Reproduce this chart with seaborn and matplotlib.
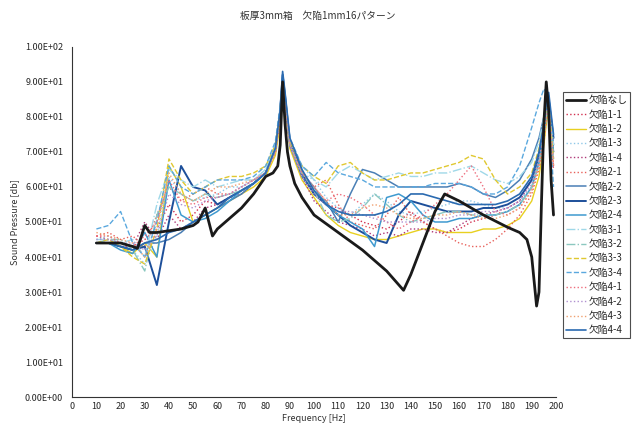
import pandas as pd
import matplotlib.pyplot as plt
import seaborn as sns

sns.set_style("white")
plt.rcParams['font.family'] = ['Noto Sans CJK JP', 'DejaVu Sans']

# frequency grid shared by the 16 defect patterns
freq = [10, 15, 20, 25, 30, 35, 40, 45, 50, 55, 60, 65, 70, 75, 80, 84, 86, 87, 88, 90,
        95, 100, 105, 110, 115, 120, 125, 130, 135, 140, 145, 150, 155, 160, 165, 170,
        175, 180, 185, 190, 193, 195, 196, 197, 199]

# reference curve (no defect)
freq_ref = [10, 15, 20, 25, 27, 30, 32, 35, 40, 45, 50, 52, 55, 58, 60, 65, 70, 75, 80, 83,
            85, 86, 87, 88, 89, 90, 92, 95, 100, 110, 120, 130, 137, 140, 145, 150, 154,
            160, 170, 180, 185, 188, 190, 192, 193, 194, 195, 196, 197, 198, 199]
spl_ref = [44, 44, 44, 43, 42.5, 49, 47, 47, 47.5, 48, 49, 50, 54, 46, 48, 51, 54, 58, 63, 64,
           66, 72, 90, 78, 70, 66, 61, 57, 52, 47, 42, 36, 30.5, 35, 44, 53, 58,
           56, 52, 48.5, 47, 45, 40, 26, 30, 55, 78, 90, 82, 62, 52]

d11 = [46, 45, 44, 43, 45, 48, 55, 50, 52, 56, 55, 57, 59, 61, 64, 70, 80, 90, 84, 72,
       64, 58, 55, 54, 52, 50, 49, 48, 50, 53, 50, 48, 47, 48, 50, 51, 52, 53, 55, 60, 68, 76, 80, 82, 65]
d12 = [44, 44, 43, 41, 44, 40, 66, 60, 50, 52, 54, 56, 58, 60, 63, 69, 78, 88, 83, 71,
       62, 57, 52, 49, 47, 46, 45, 45, 46, 47, 48, 48, 47, 47, 47, 48, 48, 49, 51, 56, 63, 72, 78, 82, 70]
d13 = [45, 46, 44, 42, 38, 46, 63, 58, 56, 57, 58, 60, 60, 62, 65, 72, 82, 91, 85, 72,
       64, 62, 57, 54, 52, 55, 58, 56, 53, 52, 53, 54, 55, 56, 56, 55, 54, 54, 56, 60, 66, 74, 80, 84, 68]
d14 = [44, 44, 43, 43, 50, 45, 52, 48, 50, 54, 55, 57, 58, 61, 64, 70, 80, 89, 84, 72,
       63, 56, 53, 50, 49, 48, 46, 47, 46, 48, 48, 47, 47, 49, 51, 52, 53, 54, 56, 62, 70, 78, 83, 85, 70]
d21 = [46, 47, 45, 46, 43, 52, 60, 56, 58, 60, 58, 58, 60, 62, 64, 70, 81, 90, 84, 72,
       63, 60, 62, 55, 50, 49, 48, 52, 57, 52, 50, 48, 46, 44, 43, 43, 45, 48, 52, 58, 65, 73, 79, 83, 66]
d22 = [44, 44, 43, 42, 44, 44, 45, 47, 50, 52, 54, 56, 58, 61, 64, 71, 82, 91, 85, 72,
       63, 58, 56, 50, 58, 65, 64, 62, 60, 60, 60, 60, 60, 61, 60, 58, 57, 59, 62, 68, 74, 80, 84, 86, 72]
d23 = [44, 44, 43, 42, 43, 32, 50, 66, 60, 59, 55, 57, 59, 61, 64, 71, 82, 92, 86, 73,
       64, 58, 55, 52, 49, 47, 45, 44, 52, 56, 55, 54, 53, 53, 53, 54, 54, 55, 57, 62, 69, 77, 83, 85, 74]
d24 = [44, 44, 42, 41, 47, 40, 62, 52, 50, 51, 53, 56, 59, 61, 64, 71, 82, 91, 85, 72,
       64, 60, 55, 52, 50, 48, 43, 57, 58, 56, 52, 50, 50, 51, 51, 52, 52, 53, 55, 60, 67, 75, 81, 84, 70]
d31 = [45, 45, 44, 45, 40, 55, 65, 62, 60, 62, 60, 61, 62, 62, 65, 72, 82, 91, 85, 73,
       66, 62, 60, 64, 66, 64, 62, 63, 64, 63, 63, 64, 64, 65, 66, 64, 62, 61, 63, 67, 73, 80, 84, 86, 72]
d32 = [44, 45, 45, 42, 36, 52, 60, 58, 56, 58, 57, 58, 59, 61, 64, 71, 81, 90, 85, 72,
       64, 59, 52, 50, 51, 54, 58, 55, 52, 50, 51, 52, 53, 53, 52, 52, 52, 53, 55, 60, 67, 75, 80, 83, 68]
d33 = [44, 45, 43, 40, 38, 48, 68, 62, 58, 60, 62, 63, 63, 64, 66, 72, 82, 90, 85, 73,
       66, 63, 61, 66, 67, 64, 62, 62, 63, 64, 64, 65, 66, 67, 69, 68, 62, 58, 60, 64, 71, 78, 82, 84, 68]
d34 = [48, 49, 53, 44, 40, 50, 66, 60, 58, 60, 62, 62, 62, 63, 66, 73, 83, 92, 86, 74,
       66, 63, 67, 64, 63, 62, 60, 60, 60, 60, 60, 61, 61, 61, 60, 58, 58, 60, 66, 77, 84, 88, 87, 83, 60]
d41 = [46, 46, 44, 43, 46, 50, 62, 56, 55, 57, 57, 58, 60, 62, 64, 70, 81, 90, 84, 72,
       64, 60, 56, 58, 57, 55, 52, 50, 48, 50, 52, 55, 58, 62, 66, 60, 53, 52, 54, 59, 66, 74, 80, 83, 66]
d42 = [45, 45, 44, 44, 42, 46, 58, 55, 54, 56, 57, 58, 60, 62, 64, 70, 80, 89, 84, 72,
       63, 58, 55, 53, 53, 52, 51, 50, 50, 50, 50, 51, 51, 52, 52, 53, 53, 54, 56, 61, 68, 76, 81, 84, 68]
d43 = [47, 46, 45, 44, 40, 48, 64, 58, 56, 58, 60, 60, 61, 62, 64, 70, 80, 89, 84, 72,
       64, 60, 56, 52, 52, 54, 55, 54, 52, 51, 51, 52, 52, 53, 52, 51, 51, 52, 54, 59, 66, 74, 79, 82, 66]
d44 = [44, 44, 43, 42, 44, 45, 47, 48, 50, 52, 54, 57, 59, 61, 64, 71, 82, 93, 87, 74,
       65, 59, 55, 53, 52, 52, 52, 53, 55, 58, 58, 57, 56, 55, 55, 55, 55, 56, 58, 63, 70, 78, 84, 87, 75]

names = ["欠陥1-1", "欠陥1-2", "欠陥1-3", "欠陥1-4", "欠陥2-1", "欠陥2-2", "欠陥2-3", "欠陥2-4",
         "欠陥3-1", "欠陥3-2", "欠陥3-3", "欠陥3-4", "欠陥4-1", "欠陥4-2", "欠陥4-3", "欠陥4-4"]
series = [d11, d12, d13, d14, d21, d22, d23, d24, d31, d32, d33, d34, d41, d42, d43, d44]

# line looks per pattern (color, linestyle, width)
looks = [
    ("#d2304f", ":", 1.0), ("#e8d020", "-", 1.0), ("#8fc8e8", ":", 1.0), ("#b03878", ":", 1.0),
    ("#e8605a", ":", 1.0), ("#4a7fb5", "-", 1.1), ("#1d4f9a", "-", 1.4), ("#3f9ad0", "-", 1.1),
    ("#9fd8e8", "-.", 1.0), ("#8cc8c0", "-.", 1.0), ("#e0c830", "--", 1.0), ("#5aa8de", "--", 1.0),
    ("#ee6c7c", ":", 1.0), ("#b090d0", ":", 1.0), ("#f0a070", ":", 1.0), ("#2a6ab0", "-", 1.2),
]

fig = plt.figure(figsize=(6.39, 4.34), dpi=100)
ax = fig.add_axes([0.113, 0.085, 0.757, 0.807])

ref = pd.DataFrame({"freq": freq_ref, "spl": spl_ref})
sns.lineplot(data=ref, x="freq", y="spl", ax=ax, color="#1a1a1a", linewidth=2.0,
             label="欠陥なし", zorder=5)
for name, vals, (c, ls, lw) in zip(names, series, looks):
    df = pd.DataFrame({"freq": freq, "spl": vals})
    sns.lineplot(data=df, x="freq", y="spl", ax=ax, color=c, linestyle=ls,
                 linewidth=lw, label=name, zorder=3)

ax.set_xlim(0, 200)
ax.set_ylim(0, 100)
ax.set_xticks(range(0, 201, 10))
ax.set_yticks(range(0, 101, 10))
ax.set_yticklabels([f"{v:.2E}" for v in range(0, 101, 10)])
ax.tick_params(axis="y", direction="out", length=3, width=0.6, labelsize=6.5, color="#333333")
ax.tick_params(axis="x", direction="in", length=3, width=0.6, labelsize=6.5, color="#333333")
for s in ["top", "right"]:
    ax.spines[s].set_visible(False)
for s in ["left", "bottom"]:
    ax.spines[s].set_color("#333333")
    ax.spines[s].set_linewidth(0.8)

ax.set_xlabel("Frequency [Hz]", fontsize=6.5, color="#333333", labelpad=2)
ax.set_ylabel("Sound Pressure [db]", fontsize=6.5, color="#333333", labelpad=4)
fig.text(0.497, 0.963, "板厚3mm箱　欠陥1mm16パターン", ha="center", va="center",
         fontsize=7, color="#333333")

ax.legend(loc="upper left", bbox_to_anchor=(1.015, 0.87), fontsize=7,
          frameon=True, fancybox=False, edgecolor="#222222", handlelength=2.0,
          handletextpad=0.3, borderpad=0.3, labelspacing=0.45, borderaxespad=0)
ax.get_legend().get_frame().set_linewidth(0.8)

fig.savefig("out.png", dpi=100)
